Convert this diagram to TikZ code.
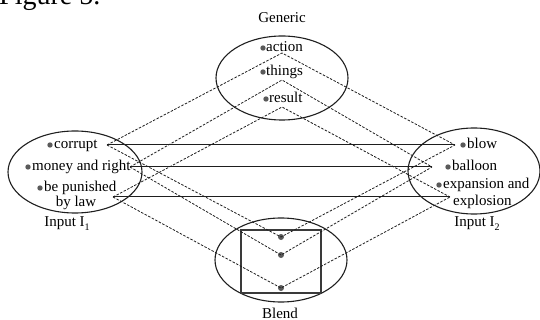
\documentclass[tikz,border=0pt]{standalone}
\usepackage{fontspec}
\setmainfont{Liberation Serif}
\usetikzlibrary{shapes.geometric}
\definecolor{dotgray}{HTML}{5A5A5A}
\definecolor{ink}{HTML}{1E1E1E}
\definecolor{boxgray}{HTML}{3A3A3A}
\newcommand{\subidx}[1]{\raisebox{-0.28em}{\fontsize{10}{10}\selectfont #1}}
\begin{document}
\begin{tikzpicture}[x=1pt,y=-1pt,
  lbl/.style={inner sep=0pt, anchor=base west, font=\fontsize{15}{17}\selectfont},
  ctr/.style={inner sep=0pt, anchor=base, font=\fontsize{15}{17}\selectfont},
  dot/.style={circle, fill=dotgray, inner sep=0pt, minimum size=5.4pt},
  bigdot/.style={dot, minimum size=6pt},
  space/.style={ellipse, draw=ink, line width=1.1pt, inner sep=0pt,
                minimum width=132pt, minimum height=84pt},
  link/.style={draw=ink, line width=1pt},
  map/.style={draw=ink, line width=0.8pt, dash pattern=on 2.5pt off 1.5pt}]
\useasboundingbox (0,0) rectangle (540,320);

% heading, running off the top edge
\node[inner sep=0pt, anchor=base west, font=\fontsize{28}{30}\selectfont] (title) at (-1,5) {Figure 5.};

% the four mental spaces
\node[space] (gen) at (282,78) {};
\node[space, minimum width=134pt, minimum height=82pt] (in1) at (75,172) {};
\node[space, minimum width=132pt, minimum height=86pt] (in2) at (474,171) {};
\node[space] (bl) at (281,260) {};
\draw[boxgray, line width=1.2pt] (241,230) rectangle (321,293);

\node[ctr] (genlab) at (282,23) {Generic};
\node[ctr] (in1lab) at (67,226) {Input I\subidx{1}};
\node[ctr] (in2lab) at (477,226) {Input I\subidx{2}};
\node[ctr] (bllab) at (280,318) {Blend};

% generic space
\node[dot] (gd1) at (263,48) {};
\node[lbl] (gt1) at (266,52) {action};
\node[dot] (gd2) at (263,72) {};
\node[lbl] (gt2) at (266,76) {things};
\node[dot] (gd3) at (266,99) {};
\node[lbl] (gt3) at (269,103) {result};
\coordinate (g1) at (282,53);
\coordinate (g2) at (282,80);
\coordinate (g3) at (282,107);

% input space 1
\node[dot] (ad1) at (50,145) {};
\node[lbl] (at1) at (54,149) {corrupt};
\node[dot] (ad2) at (28,167) {};
\node[lbl] (at2) at (32,171) {money and right};
\node[dot] (ad3) at (40,188) {};
\node[lbl] (at3) at (44,192) {be punished};
\node[ctr] (at3b) at (76,207) {by law};
\coordinate (a1) at (107,145);
\coordinate (a2) at (130,167);
\coordinate (a3) at (113,197);

% input space 2
\node[dot] (bd1) at (463,145) {};
\node[lbl] (bt1) at (467,149) {blow};
\node[dot] (bd2) at (448,167) {};
\node[lbl] (bt2) at (452,171) {balloon};
\node[dot] (bd3) at (439,185) {};
\node[lbl] (bt3) at (443,189) {expansion and};
\node[lbl] (bt3b) at (453,206) {explosion};
\coordinate (b1) at (455,145);
\coordinate (b2) at (432,167);
\coordinate (b3) at (450,197);

% blended space
\node[bigdot] (c1) at (281,237) {};
\node[bigdot] (c2) at (281,255) {};
\node[bigdot] (c3) at (281,288) {};

% cross-space counterparts
\draw[link] (a1) -- (b1);
\draw[link] (a2) -- (b2);
\draw[link] (a3) -- (b3);

% projections from the generic space
\draw[map] (a1) -- (g1) -- (b1);
\draw[map] (a2) -- (g2) -- (b2);
\draw[map] (a3) -- (g3) -- (b3);

% projections into the blend
\draw[map] (a1) -- (c1.center) -- (b1);
\draw[map] (a2) -- (c2.center) -- (b2);
\draw[map] (a3) -- (c3.center) -- (b3);
\end{tikzpicture}
\end{document}
